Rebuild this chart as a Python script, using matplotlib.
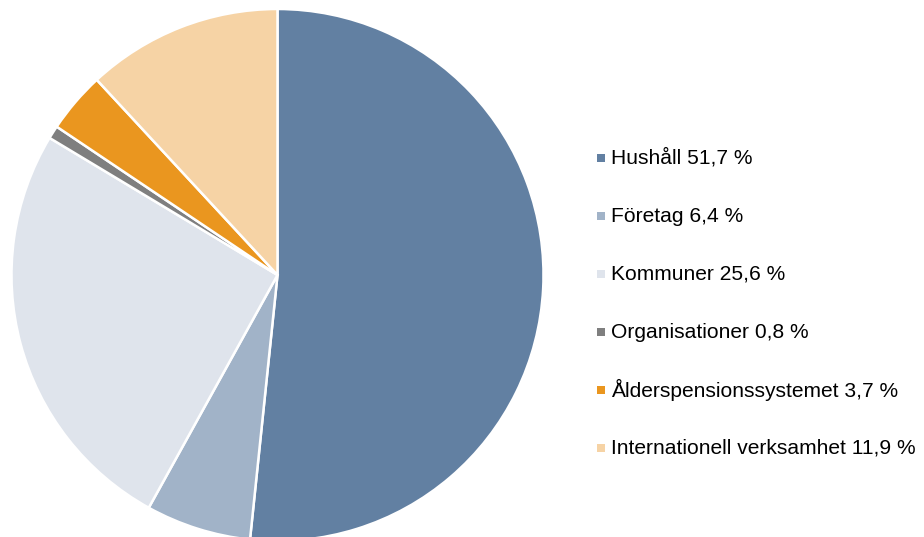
import matplotlib
matplotlib.use("Agg")
import matplotlib.pyplot as plt

categories = ["Hushåll", "Företag", "Kommuner", "Organisationer",
              "Ålderspensionssystemet", "Internationell verksamhet"]
values = [51.7, 6.4, 25.6, 0.8, 3.7, 11.9]
labels = ["Hushåll 51,7 %", "Företag 6,4 %", "Kommuner 25,6 %",
          "Organisationer 0,8 %", "Ålderspensionssystemet 3,7 %",
          "Internationell verksamhet 11,9 %"]
colors = ["#6280A2", "#A1B3C8", "#DFE4EC", "#7F7F7F", "#EA961F", "#F6D3A5"]

W, H = 924, 537
fig = plt.figure(figsize=(W / 100, H / 100), dpi=100)
ax = fig.add_axes([0, 0, 1, 1])
ax.set_xlim(0, W)
ax.set_ylim(0, H)
ax.axis("off")

ax.pie(values, colors=colors, startangle=90, counterclock=False,
       center=(277.5, H - 275), radius=266,
       wedgeprops=dict(edgecolor="white", linewidth=1.8))
ax.set_xlim(0, W)
ax.set_ylim(0, H)
ax.set_aspect("equal")

row_y = [158, 216, 274, 332, 390, 448]
for lab, col, y in zip(labels, colors, row_y):
    ax.scatter([601], [H - y], marker="s", s=34, color=col, linewidths=0)
    ax.text(611, H - y, lab, va="center", ha="left", fontsize=15.1,
            family="Liberation Sans", color="#000000")

fig.savefig("out.png", dpi=100)
